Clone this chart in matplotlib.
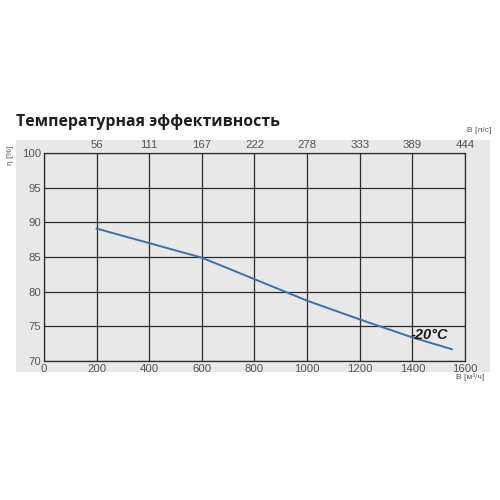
import matplotlib
matplotlib.use('Agg')
import matplotlib.pyplot as plt
from matplotlib.patches import Rectangle

# airflow [m3/h] and temperature efficiency [%]
flow_m3h = [200, 400, 600, 800, 1000, 1200, 1400, 1550]
eff = [89.1, 87.0, 84.9, 81.8, 78.7, 76.0, 73.4, 71.7]

x_ticks = [0, 200, 400, 600, 800, 1000, 1200, 1400, 1600]
y_ticks = [70, 75, 80, 85, 90, 95, 100]
top_ticks = [200, 400, 600, 800, 1000, 1200, 1400, 1600]
top_labels = ['56', '111', '167', '222', '278', '333', '389', '444']

TITLE = 'Температурная эффективность'
CURVE_LABEL = '-20°C'

plt.rcParams['font.family'] = ['Liberation Sans', 'DejaVu Sans']
tick_col = '#555555'
grid_col = '#2b2b2b'

fig = plt.figure(figsize=(5, 5), dpi=100)
fig.patch.set_facecolor('white')

# gray panel behind the chart
fig.patches.append(Rectangle((0.032, 0.256), 0.948, 0.464, transform=fig.transFigure,
                             facecolor='#e8e8e8', edgecolor='none', zorder=-10))

ax = fig.add_axes([0.088, 0.278, 0.842, 0.416])
ax.set_facecolor('#e8e8e8')
ax.set_xlim(0, 1600)
ax.set_ylim(70, 100)

ax.set_xticks(x_ticks)
ax.set_yticks(y_ticks)
ax.tick_params(axis='both', length=0, labelsize=8.2, colors=tick_col, pad=2)
ax.grid(color=grid_col, linewidth=0.9)
ax.set_axisbelow(True)
for s in ax.spines.values():
    s.set_color(grid_col)
    s.set_linewidth(0.9)

ax.plot(flow_m3h, eff, color='#3f6fa8', linewidth=1.4, zorder=3)
ax.text(1535, 73.7, CURVE_LABEL, ha='right', va='center', fontsize=10.5,
        fontweight='bold', fontstyle='italic', color='#1a1a1a', zorder=4)

# top axis in l/s
ax2 = ax.twiny()
ax2.set_xlim(0, 1600)
ax2.set_xticks(top_ticks)
ax2.set_xticklabels(top_labels)
ax2.tick_params(axis='x', length=0, labelsize=8.2, colors=tick_col, pad=2)
for s in ax2.spines.values():
    s.set_visible(False)

fig.text(0.032, 0.755, TITLE, fontsize=11.4, fontweight='bold', color='#1e1e1e',
         family=['Open Sans', 'DejaVu Sans'], ha='left', va='center')
fig.text(0.958, 0.738, 'B [л/с]', fontsize=6, color=tick_col, ha='center', va='center')
fig.text(0.94, 0.245, 'B [м³/ч]', fontsize=6, color=tick_col, ha='center', va='center')
fig.text(0.02, 0.69, 'η [%]', fontsize=6, color=tick_col, rotation=90, ha='center', va='center')

fig.savefig('out.png', dpi=100, facecolor='white')
